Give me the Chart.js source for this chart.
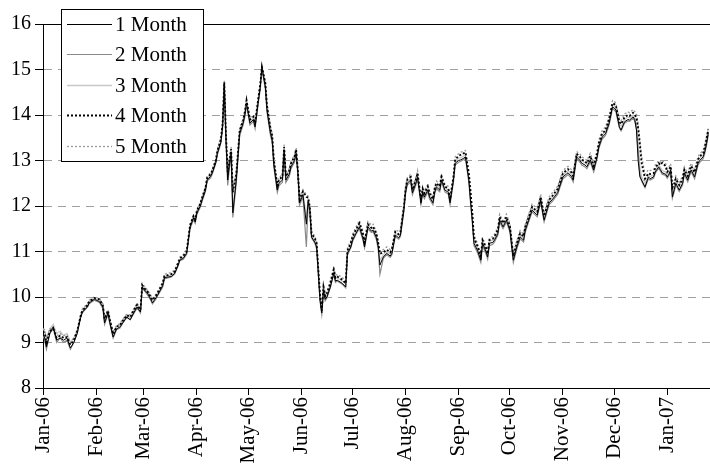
<!DOCTYPE html>
<html>
<head>
	<title>Term structure</title>
	<script src="https://cdn.jsdelivr.net/npm/chart.js"></script>
	<style>
		body { margin: 0; background: #fff; }
		canvas { display: block; }
	</style>
</head>
<body>
	<canvas id="myChart" width="710" height="466"></canvas>
	<script>
		// day offsets from 1 Jan 2006
		var days = [
			0,1,2,4,6,8,10,12,14,16,
			18,20,22,23,26,27,30,33,35,36,
			38,39,41,43,45,47,49,51,53,55,
			57,58,60,61,63,64,66,67,70,71,
			73,75,77,79,80,82,84,86,88,89,
			90,92,93,95,96,98,99,101,102,104,
			105,106,107,108,109,110,111,113,115,117,
			118,119,121,123,124,126,127,128,130,131,
			133,134,135,137,138,140,141,142,144,145,
			147,148,149,150,152,154,155,156,157,159,
			160,162,163,164,165,166,168,170,171,172,
			175,177,178,180,181,183,185,187,188,190,
			192,193,195,196,197,199,201,203,204,206,
			208,209,211,212,213,215,216,218,219,221,
			222,223,225,226,228,229,230,232,233,235,
			237,238,240,241,243,244,246,247,249,250,
			251,252,254,256,257,259,260,261,263,264,
			266,267,269,271,273,275,277,279,281,282,
			284,285,286,289,291,292,293,295,296,298,
			299,301,302,304,306,307,309,310,312,314,
			315,317,318,320,322,324,325,327,328,329,
			331,333,334,335,337,338,340,342,343,345,
			346,347,348,349,350,352,354,355,357,358,
			360,361,362,364,365,366,367,368,369,370,
			372,374,375,377,378,379,381,383,384,386,
			387,388,389
		];

		var month1 = [
			9.2,9.1,8.9,9.2,9.35,9.05,9.1,9.05,9.1,8.88,
			9.0,9.2,9.55,9.67,9.78,9.87,9.95,9.9,9.78,9.43,
			9.65,9.45,9.12,9.3,9.34,9.45,9.56,9.5,9.65,9.78,
			9.67,10.22,10.12,10.09,9.95,9.87,9.98,10.04,10.25,10.42,
			10.44,10.45,10.52,10.7,10.81,10.85,10.96,11.54,11.74,11.65,
			11.85,12.0,12.13,12.35,12.57,12.65,12.73,12.95,13.16,13.4,
			13.74,14.66,13.45,12.57,12.9,13.16,11.85,12.57,13.6,13.82,
			14.0,14.26,13.82,13.9,13.74,14.33,14.6,15.06,14.62,14.1,
			13.6,13.45,12.9,12.35,12.5,12.57,13.23,12.57,12.7,12.86,
			13.0,13.16,12.73,12.07,12.25,11.6,12.1,11.91,11.32,11.2,
			11.1,9.93,9.65,10.15,9.95,10.0,10.22,10.52,10.35,10.37,
			10.3,10.22,10.96,11.1,11.25,11.4,11.54,11.3,11.1,11.54,
			11.45,11.47,11.3,11.1,10.7,10.88,10.96,10.9,10.96,11.36,
			11.3,11.36,11.91,12.3,12.5,12.57,12.29,12.5,12.64,12.07,
			12.3,12.2,12.35,12.2,12.07,12.3,12.42,12.35,12.57,12.35,
			12.3,12.07,12.57,12.94,13.0,13.01,13.05,13.08,12.57,12.1,
			11.69,11.18,11.03,10.81,11.18,11.0,10.88,11.18,11.2,11.25,
			11.4,11.69,11.54,11.69,11.47,10.81,11.1,11.32,11.25,11.47,
			11.69,11.8,11.91,11.8,12.13,11.9,11.69,11.95,12.07,12.15,
			12.2,12.3,12.42,12.64,12.7,12.73,12.65,12.57,13.08,13.0,
			12.94,12.9,12.86,13.01,12.79,13.08,13.3,13.52,13.55,13.6,
			13.82,14.18,14.15,14.11,13.74,13.67,13.85,13.9,13.89,13.96,
			13.9,13.67,13.0,12.64,12.57,12.42,12.64,12.6,12.64,12.75,
			12.86,12.8,12.73,12.7,12.64,12.7,12.79,12.2,12.35,12.5,
			12.35,12.5,12.73,12.57,12.7,12.79,12.64,12.94,13.0,13.08,
			13.2,13.38,13.6
		];

		var month2 = [
			9.15,9.05,8.85,9.2,9.3,9.0,9.1,9.0,9.05,8.85,
			9.0,9.2,9.55,9.65,9.78,9.85,9.93,9.88,9.75,9.4,
			9.62,9.42,9.1,9.28,9.32,9.45,9.55,9.5,9.63,9.76,
			9.65,10.2,10.1,10.05,9.93,9.85,9.95,10.02,10.22,10.4,
			10.42,10.44,10.5,10.68,10.8,10.83,10.94,11.5,11.7,11.62,
			11.82,11.98,12.1,12.32,12.55,12.62,12.7,12.93,13.13,13.38,
			13.7,14.6,13.4,12.45,12.85,13.1,11.75,12.5,13.55,13.78,
			13.95,14.22,13.78,13.86,13.7,14.3,14.55,15.0,14.58,14.05,
			13.55,13.4,12.85,12.3,12.45,12.52,13.18,12.52,12.65,12.82,
			12.96,13.12,12.7,12.02,12.2,11.1,12.05,11.88,11.3,11.18,
			11.05,9.9,9.62,10.1,9.92,9.98,10.2,10.5,10.32,10.35,
			10.28,10.2,10.92,11.08,11.22,11.38,11.5,11.26,11.08,11.5,
			11.42,11.44,11.25,11.05,10.5,10.85,10.93,10.87,10.93,11.33,
			11.27,11.33,11.88,12.27,12.46,12.53,12.25,12.46,12.6,12.03,
			12.26,12.16,12.31,12.16,12.03,12.26,12.38,12.31,12.53,12.31,
			12.26,12.03,12.53,12.9,12.96,12.98,13.02,13.05,12.52,12.05,
			11.64,11.13,10.98,10.76,11.13,10.95,10.83,11.13,11.16,11.21,
			11.36,11.65,11.5,11.65,11.43,10.76,11.05,11.28,11.21,11.43,
			11.65,11.76,11.87,11.76,12.09,11.86,11.65,11.91,12.03,12.11,
			12.16,12.26,12.38,12.6,12.66,12.69,12.61,12.53,13.04,12.96,
			12.9,12.86,12.82,12.97,12.75,13.04,13.26,13.48,13.51,13.56,
			13.78,14.14,14.11,14.07,13.72,13.65,13.82,13.87,13.86,13.93,
			13.87,13.7,13.2,12.7,12.55,12.4,12.6,12.57,12.61,12.72,
			12.83,12.77,12.7,12.67,12.61,12.67,12.76,12.17,12.3,12.46,
			12.32,12.46,12.69,12.53,12.66,12.75,12.6,12.9,12.96,13.04,
			13.16,13.34,13.56
		];

		var month3 = [
			9.3,9.25,9.1,9.3,9.4,9.2,9.25,9.15,9.2,9.0,
			9.1,9.25,9.6,9.72,9.82,9.9,9.97,9.92,9.8,9.5,
			9.68,9.5,9.2,9.35,9.38,9.5,9.6,9.55,9.7,9.82,
			9.72,10.25,10.15,10.12,10.0,9.92,10.02,10.08,10.28,10.45,
			10.47,10.48,10.55,10.72,10.83,10.88,10.98,11.56,11.76,11.68,
			11.88,12.03,12.16,12.38,12.6,12.68,12.76,12.98,13.19,13.43,
			13.77,14.68,13.5,12.65,12.95,13.2,11.95,12.62,13.63,13.85,
			14.03,14.28,13.86,13.93,13.78,14.36,14.63,15.05,14.65,14.14,
			13.65,13.5,12.95,12.42,12.55,12.62,13.26,12.62,12.74,12.9,
			13.04,13.2,12.78,12.12,12.3,11.75,12.15,11.96,11.38,11.25,
			11.15,10.0,9.72,10.2,10.0,10.05,10.27,10.56,10.4,10.42,
			10.35,10.28,11.0,11.15,11.3,11.45,11.6,11.36,11.16,11.58,
			11.5,11.52,11.35,11.15,10.8,10.93,11.0,10.95,11.0,11.4,
			11.35,11.4,11.95,12.34,12.54,12.6,12.33,12.54,12.68,12.12,
			12.34,12.25,12.4,12.25,12.12,12.34,12.46,12.4,12.6,12.4,
			12.35,12.12,12.6,12.98,13.05,13.06,13.1,13.12,12.62,12.15,
			11.75,11.25,11.08,10.87,11.22,11.05,10.93,11.22,11.25,11.3,
			11.45,11.73,11.58,11.73,11.52,10.88,11.15,11.37,11.3,11.52,
			11.73,11.84,11.95,11.85,12.17,11.95,11.74,12.0,12.11,12.2,
			12.25,12.35,12.47,12.68,12.75,12.78,12.7,12.62,13.12,13.05,
			12.99,12.95,12.91,13.06,12.84,13.12,13.35,13.56,13.6,13.65,
			13.87,14.22,14.2,14.16,13.8,13.75,13.9,13.95,13.94,14.0,
			13.95,13.8,13.35,12.85,12.65,12.5,12.68,12.65,12.68,12.8,
			12.9,12.85,12.78,12.75,12.69,12.75,12.83,12.3,12.42,12.56,
			12.42,12.56,12.77,12.62,12.75,12.84,12.7,12.98,13.05,13.12,
			13.25,13.43,13.64
		];

		var month4 = [
			9.25,9.2,9.0,9.25,9.3,9.1,9.15,9.1,9.12,8.95,
			9.05,9.25,9.58,9.7,9.82,9.9,9.98,9.95,9.82,9.52,
			9.7,9.52,9.18,9.35,9.38,9.5,9.6,9.56,9.7,9.83,
			9.72,10.26,10.16,10.13,10.0,9.93,10.03,10.09,10.3,10.46,
			10.48,10.5,10.56,10.74,10.85,10.9,11.0,11.58,11.78,11.7,
			11.9,12.05,12.18,12.4,12.62,12.7,12.78,13.0,13.22,13.46,
			13.8,14.72,13.55,12.75,13.0,13.25,12.3,12.7,13.66,13.88,
			14.06,14.32,13.9,13.96,13.82,14.4,14.66,15.06,14.7,14.2,
			13.7,13.55,13.0,12.45,12.58,12.65,13.3,12.65,12.78,12.94,
			13.08,13.24,12.8,12.15,12.32,12.2,12.18,11.98,11.4,11.28,
			11.18,10.02,9.7,10.22,10.02,10.08,10.3,10.6,10.42,10.45,
			10.38,10.3,11.02,11.18,11.33,11.48,11.62,11.4,11.2,11.6,
			11.52,11.55,11.38,11.18,10.95,10.98,11.04,10.98,11.04,11.43,
			11.38,11.43,11.98,12.38,12.58,12.64,12.36,12.58,12.72,12.15,
			12.38,12.28,12.43,12.28,12.15,12.38,12.5,12.43,12.64,12.43,
			12.38,12.15,12.64,13.02,13.1,13.12,13.16,13.18,12.7,12.3,
			11.85,11.3,11.12,10.9,11.25,11.08,10.95,11.25,11.28,11.33,
			11.48,11.76,11.62,11.76,11.56,10.9,11.18,11.4,11.33,11.55,
			11.76,11.87,11.98,11.88,12.2,11.98,11.78,12.03,12.14,12.23,
			12.28,12.38,12.5,12.72,12.78,12.81,12.74,12.66,13.15,13.08,
			13.02,12.98,12.94,13.1,12.88,13.15,13.38,13.6,13.63,13.68,
			13.9,14.26,14.24,14.2,13.85,13.8,13.95,14.0,13.98,14.05,
			14.0,13.95,13.7,13.35,12.95,12.6,12.72,12.7,12.72,12.84,
			12.94,12.9,12.95,12.88,12.75,12.8,12.87,12.4,12.48,12.6,
			12.46,12.6,12.8,12.66,12.79,12.88,12.74,13.02,13.09,13.16,
			13.3,13.48,13.68
		];

		var month5 = [
			9.3,9.28,9.1,9.3,9.32,9.15,9.2,9.15,9.18,9.0,
			9.1,9.28,9.62,9.74,9.86,9.93,10.0,9.97,9.85,9.56,
			9.72,9.55,9.22,9.38,9.42,9.53,9.63,9.6,9.74,9.86,
			9.76,10.3,10.2,10.16,10.04,9.97,10.06,10.12,10.33,10.5,
			10.52,10.54,10.6,10.78,10.88,10.93,11.04,11.6,11.8,11.73,
			11.93,12.08,12.2,12.43,12.65,12.73,12.8,13.02,13.25,13.5,
			13.84,14.75,13.6,12.8,13.05,13.3,12.35,12.75,13.7,13.92,
			14.1,14.36,13.94,14.0,13.86,14.43,14.7,15.08,14.74,14.25,
			13.75,13.6,13.05,12.5,12.62,12.7,13.35,12.7,12.82,12.98,
			13.12,13.28,12.85,12.2,12.36,12.25,12.22,12.02,11.45,11.33,
			11.22,10.08,9.76,10.28,10.08,10.13,10.35,10.66,10.48,10.5,
			10.43,10.36,11.08,11.24,11.38,11.54,11.68,11.46,11.26,11.66,
			11.58,11.6,11.43,11.24,11.0,11.04,11.1,11.04,11.1,11.48,
			11.44,11.48,12.03,12.43,12.62,12.7,12.42,12.63,12.78,12.2,
			12.43,12.33,12.48,12.33,12.2,12.43,12.55,12.48,12.7,12.48,
			12.43,12.2,12.7,13.08,13.15,13.18,13.2,13.22,12.78,12.4,
			11.95,11.38,11.18,10.95,11.3,11.13,11.0,11.3,11.33,11.38,
			11.54,11.82,11.67,11.82,11.62,10.95,11.24,11.46,11.38,11.6,
			11.82,11.93,12.04,11.94,12.26,12.04,11.84,12.1,12.2,12.3,
			12.34,12.44,12.56,12.78,12.84,12.87,12.8,12.72,13.2,13.14,
			13.08,13.04,13.0,13.16,12.95,13.22,13.45,13.66,13.7,13.75,
			13.97,14.32,14.3,14.26,13.92,13.88,14.02,14.07,14.05,14.12,
			14.08,14.02,13.8,13.45,13.1,12.7,12.8,12.78,12.8,12.9,
			13.0,12.96,13.0,12.94,12.82,12.86,12.93,12.48,12.55,12.66,
			12.52,12.66,12.86,12.72,12.85,12.94,12.8,13.08,13.15,13.22,
			13.36,13.54,13.72
		];

		var seriesNames = ['1 Month', '2 Month', '3 Month', '4 Month', '5 Month'];
		var tickLabels = ['Jan-06','Feb-06','Mar-06','Apr-06','May-06','Jun-06','Jul-06',
			'Aug-06','Sep-06','Oct-06','Nov-06','Dec-06','Jan-07'];
		var monthStarts = [0, 31, 59, 90, 120, 151, 181, 212, 243, 273, 304, 334, 365];

		var serif = '"Liberation Serif", "Times New Roman", serif';

		function pts(vals) {
			return days.map(function(d, i) { return { x: d, y: vals[i] }; });
		}

		// legend box drawn inside the plot, top left
		var boxLegend = {
			id: 'boxLegend',
			afterDraw: function(chart) {
				var ctx = chart.ctx;
				var a = chart.chartArea;
				var x0 = a.left + 18, y0 = a.top - 15, w = 142, h = 152;
				ctx.save();
				ctx.fillStyle = '#fff';
				ctx.fillRect(x0, y0, w, h);
				ctx.strokeStyle = '#000';
				ctx.lineWidth = 1;
				ctx.setLineDash([]);
				ctx.strokeRect(x0 + 0.5, y0 + 0.5, w, h);
				ctx.font = '21px ' + serif;
				ctx.textBaseline = 'middle';
				chart.data.datasets.forEach(function(ds, i) {
					var y = Math.round(y0 + 15 + i * 30.4) + 0.5;
					ctx.strokeStyle = ds.borderColor;
					ctx.lineWidth = ds.borderWidth;
					ctx.setLineDash(ds.borderDash || []);
					ctx.beginPath();
					ctx.moveTo(x0 + 6, y);
					ctx.lineTo(x0 + 51, y);
					ctx.stroke();
					ctx.setLineDash([]);
					ctx.fillStyle = '#000';
					ctx.fillText(ds.label, x0 + 54, y + 1);
				});
				ctx.restore();
			}
		};

		var ctx = document.getElementById('myChart').getContext('2d');
		var chart = new Chart(ctx, {
			type: 'line',
			data: {
				datasets: [
					{ label: seriesNames[0], data: pts(month1), borderColor: '#000000', borderWidth: 1, order: 1 },
					{ label: seriesNames[1], data: pts(month2), borderColor: '#8a8a8a', borderWidth: 1.2, order: 3 },
					{ label: seriesNames[2], data: pts(month3), borderColor: '#c8c8c8', borderWidth: 1.3, order: 4 },
					{ label: seriesNames[3], data: pts(month4), borderColor: '#000000', borderWidth: 1.8, borderDash: [2, 2], order: 0 },
					{ label: seriesNames[4], data: pts(month5), borderColor: '#9a9a9a', borderWidth: 1.3, borderDash: [2, 2], order: 2 }
				]
			},
			options: {
				responsive: false,
				animation: false,
				parsing: false,
				elements: {
					point: { radius: 0 },
					line: { tension: 0, fill: false }
				},
				layout: { padding: { top: 24, right: 0, left: 0, bottom: 0 } },
				plugins: {
					legend: { display: false },
					tooltip: { enabled: false }
				},
				scales: {
					x: {
						type: 'linear',
						min: 0,
						max: 390,
						afterBuildTicks: function(scale) {
							scale.ticks = monthStarts.map(function(v) { return { value: v }; });
						},
						afterFit: function(scale) { scale.height = 78; },
						ticks: {
							autoSkip: false,
							minRotation: 90,
							maxRotation: 90,
							padding: 2,
							color: '#000',
							font: { family: serif, size: 21 },
							callback: function(value, index) { return tickLabels[index]; }
						},
						grid: { drawOnChartArea: false, tickLength: 7, tickColor: '#000' },
						border: { color: '#000', width: 1 }
					},
					y: {
						min: 8,
						max: 16,
						afterFit: function(scale) { scale.width = 43; },
						ticks: {
							stepSize: 1,
							padding: 4,
							color: '#000',
							font: { family: serif, size: 20 }
						},
						grid: {
							tickLength: 8,
							tickColor: '#000',
							color: function(c) {
								var v = c.tick ? c.tick.value : 0;
								return (v === 16 || v === 8) ? '#000' : '#a0a0a0';
							}
						},
						border: {
							color: '#000',
							width: 1,
							dash: function(c) {
								var v = c.tick ? c.tick.value : 0;
								return (v === 16 || v === 8) ? [] : [8, 6];
							}
						}
					}
				}
			},
			plugins: [boxLegend]
		});
	</script>
</body>
</html>
